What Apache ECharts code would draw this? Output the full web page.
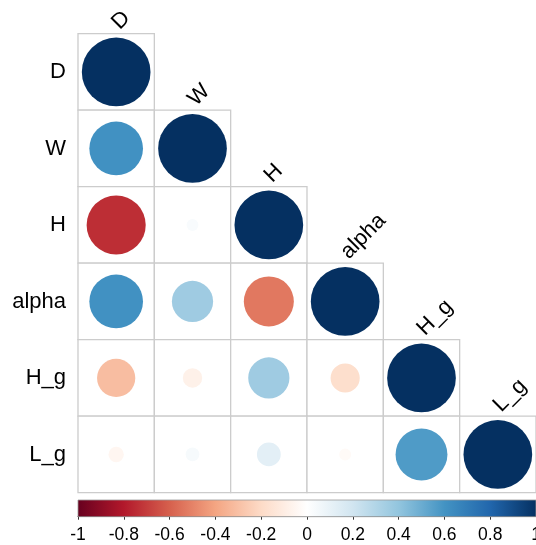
<!DOCTYPE html>
<html>
<head>
<meta charset="utf-8">
<script src="https://cdn.jsdelivr.net/npm/echarts@6/dist/echarts.min.js"></script>
<style>
  html, body { margin: 0; padding: 0; background: #fff; }
  #chart { width: 536px; height: 545px; }
</style>
</head>
<body>
<div id="chart"></div>
<script>
// Variable names, in matrix order
const variables = ['D', 'W', 'H', 'alpha', 'H_g', 'L_g'];

// Lower triangle of the correlation matrix, one row per variable
const rowD    = [1];
const rowW    = [0.61, 1];
const rowH    = [-0.74, 0.03, 1];
const rowAlpha = [0.61, 0.36, -0.53, 1];
const rowHg   = [-0.31, -0.08, 0.36, -0.18, 1];
const rowLg   = [-0.05, 0.04, 0.12, -0.03, 0.57, 1];
const corrRows = [rowD, rowW, rowH, rowAlpha, rowHg, rowLg];

// Colour bar ticks
const barTicks = [-1, -0.8, -0.6, -0.4, -0.2, 0, 0.2, 0.4, 0.6, 0.8, 1];

// RdBu diverging palette (from -1 to 1)
const rdbu = ['#67001F', '#B2182B', '#D6604D', '#F4A582', '#FDDBC7', '#FFFFFF',
              '#D1E5F0', '#92C5DE', '#4393C3', '#2166AC', '#053061'];

// [column, row, value] for every lower-triangle cell
const cells = [];
corrRows.forEach((row, r) => row.forEach((v, c) => cells.push([c, r, v])));
const diagLabels = variables.map((name, i) => [i, i, name]);

const font = '"Liberation Sans", Arial, Helvetica, sans-serif';
const chart = echarts.init(document.getElementById('chart'), null, { renderer: 'canvas' });

chart.setOption({
  animation: false,
  backgroundColor: '#fff',
  grid: [
    { left: 78, top: 33.7, width: 458, height: 459, outerBoundsMode: 'none', containLabel: false },
    { left: 78, top: 500, width: 458, height: 16.7, outerBoundsMode: 'none', containLabel: false }
  ],
  xAxis: [
    { gridIndex: 0, type: 'category', data: variables, show: false },
    {
      gridIndex: 1, type: 'value', min: -1, max: 1, interval: 0.2,
      axisLine: { show: true, onZero: false, lineStyle: { color: '#333', width: 1 } },
      axisTick: { show: true, length: 3, lineStyle: { color: '#333' } },
      splitLine: { show: false },
      axisLabel: {
        color: '#000', fontSize: 17.5, fontFamily: font, margin: 9,
        hideOverlap: false,
        formatter: v => String(Math.round(v * 10) / 10)
      }
    }
  ],
  yAxis: [
    {
      gridIndex: 0, type: 'category', data: variables, inverse: true,
      axisLine: { show: false }, axisTick: { show: false }, splitLine: { show: false },
      axisLabel: { color: '#000', fontSize: 22, fontFamily: font, margin: 12 }
    },
    { gridIndex: 1, type: 'value', min: 0, max: 1, show: false }
  ],
  visualMap: {
    type: 'continuous', show: false, min: -1, max: 1, dimension: 2,
    seriesIndex: 1, inRange: { color: rdbu }
  },
  series: [
    {
      // cell outlines
      type: 'custom', xAxisIndex: 0, yAxisIndex: 0, data: cells, z: 1,
      renderItem: (params, api) => {
        const p = api.coord([api.value(0), api.value(1)]);
        const s = api.size([1, 1]);
        return {
          type: 'rect',
          shape: { x: p[0] - s[0] / 2, y: p[1] - s[1] / 2, width: s[0], height: s[1] },
          style: { fill: '#fff', stroke: '#CCCCCC', lineWidth: 1.3 }
        };
      }
    },
    {
      // correlation circles, area proportional to |r|
      type: 'custom', xAxisIndex: 0, yAxisIndex: 0, data: cells, z: 2,
      renderItem: (params, api) => {
        const p = api.coord([api.value(0), api.value(1)]);
        const s = api.size([1, 1]);
        const r = 0.45 * Math.sqrt(Math.abs(api.value(2))) * s[0];
        return {
          type: 'circle',
          shape: { cx: p[0], cy: p[1], r: r },
          style: { fill: api.visual('color') }
        };
      }
    },
    {
      // variable names above the diagonal
      type: 'custom', xAxisIndex: 0, yAxisIndex: 0, data: diagLabels, z: 3,
      renderItem: (params, api) => {
        const p = api.coord([api.value(0), api.value(1)]);
        const s = api.size([1, 1]);
        return {
          type: 'text',
          x: p[0] + 7, y: p[1] - s[1] / 2,
          rotation: Math.PI / 4,
          style: {
            text: variables[params.dataIndex], x: 0, y: 0,
            align: 'left', verticalAlign: 'bottom',
            fill: '#000', fontSize: 22, fontFamily: font
          }
        };
      }
    },
    {
      // colour bar
      type: 'custom', xAxisIndex: 1, yAxisIndex: 1, data: [[barTicks[0], barTicks[barTicks.length - 1]]], z: 1,
      renderItem: (params, api) => {
        const a = api.coord([api.value(0), 1]);
        const b = api.coord([api.value(1), 0]);
        const stops = rdbu.map((c, i) => ({ offset: i / (rdbu.length - 1), color: c }));
        return {
          type: 'rect',
          shape: { x: a[0], y: a[1], width: b[0] - a[0], height: b[1] - a[1] },
          style: {
            fill: new echarts.graphic.LinearGradient(0, 0, 1, 0, stops),
            stroke: '#999', lineWidth: 0.8
          }
        };
      }
    }
  ]
});
</script>
</body>
</html>
